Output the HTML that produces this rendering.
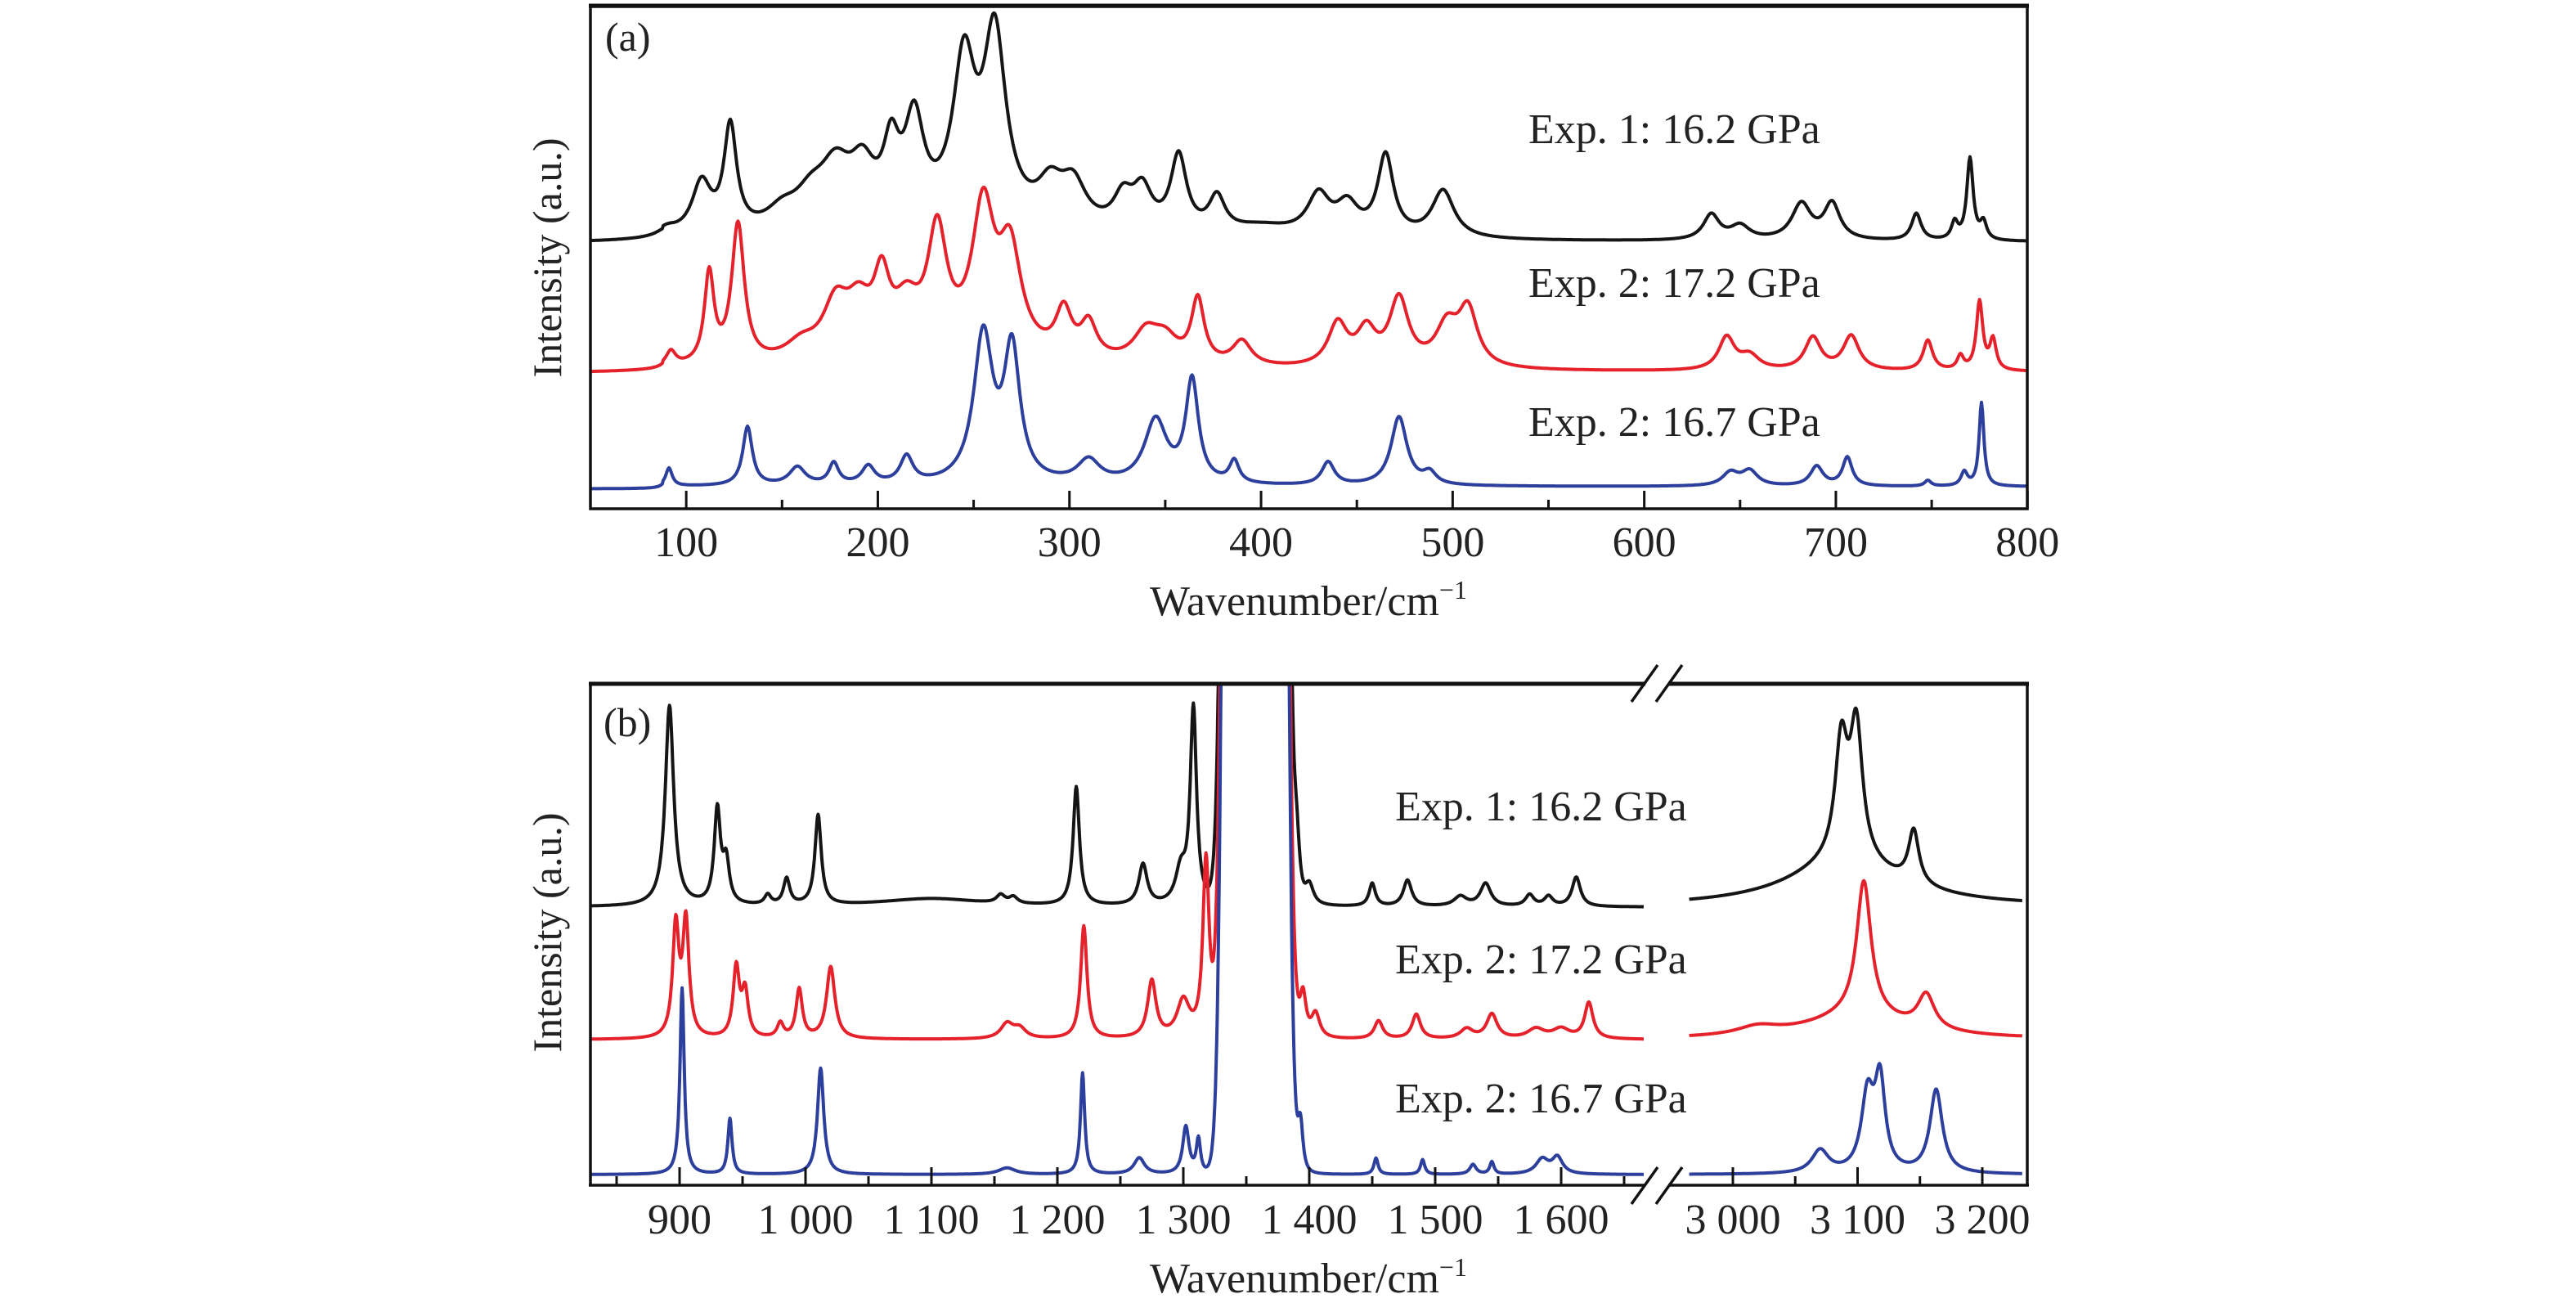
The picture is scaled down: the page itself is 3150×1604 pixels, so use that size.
<!DOCTYPE html>
<html><head><meta charset="utf-8">
<style>
html,body{margin:0;padding:0;background:#fff;}
svg{display:block;}
text{font-family:"Liberation Serif","DejaVu Serif",serif;fill:#222;}
</style></head>
<body>
<svg id="fig" width="3150" height="1604" viewBox="0 0 3150 1604" xmlns="http://www.w3.org/2000/svg">
<defs>
<clipPath id="clipA"><rect x="722" y="8" width="1757" height="614"/></clipPath>
<clipPath id="clipB1"><rect x="722" y="838" width="1288" height="611"/></clipPath>
<clipPath id="clipB2"><rect x="2042" y="838" width="437" height="611"/></clipPath>
</defs>
<g id="panelA"></g>
<g id="panelB"></g>
</svg>
<script>
// ---------- Panel (a) data ----------
const aBlackC=[90,108,123,150,165,178,192,207,219,245,261,290,302,328,338,357,377,400,430,445,465,495,635,650,682,698,742,762,770,777,240];
const aBlackH=[8,62,128,22,34,66,60,80,115,185,222,44,50,38,48,92,42,12,48,36,98,58,31,17,44,44,33,21,100,21,18];
const aBlackW=[6,6,4,10,10,10,8,5,6,7,7,8,8,6,6,5,5,20,7,7,5,7,5,6,6,5,3,2,2,2,60];
const aRedC=[92,112,127,160,178,190,202,215,231,255,269,297,310,340,350,367,390,440,455,472,497,508,643,655,688,708,748,765,775,782,240];
const aRedH=[18,110,170,20,62,55,80,52,140,170,120,55,42,36,28,78,30,52,42,82,48,68,40,17,40,42,37,17,84,37,18];
const aRedW=[3,3,4,10,8,8,5,8,6,7,7,5,5,8,8,4,6,6,6,6,7,6,5,6,5,5,3,2,2,2,60];
const aBlueC=[91,132,158,177,195,215,255,270,310,345,364,386,435,472,488,645,655,690,706,748,767,776];
const aBlueH=[22,72,22,26,22,33,180,160,28,78,125,27,28,84,14,16,18,24,35,7,17,102];
const aBlueW=[2,3,5,3,4,4,6,5,7,7,4,3,4,5,4,5,5,4,3,2,2,1.5];
const aTicks=[100,200,300,400,500,600,700,800];
const aMinor=[50,150,250,350,450,550,650,750];
// ---------- Panel (b) data ----------
const bBlackC=[892,930,937,970,985,1010,1100,1155,1165,1215,1268,1298,1308,1390,1400,1450,1478,1520,1540,1575,1590,1612];
const bBlackH=[245,115,50,12,32,110,10,10,8,145,50,40,240,70,25,28,32,12,28,14,12,36];
const bBlackW=[4,3,3,3,3,3,50,4,4,3,4,5,3,3,4,3,4,6,5,4,4,4];
const bBlackRC=[3090,3087,3099,3145];
const bBlackRH=[55,140,160,65];
const bBlackRW=[55,6,6,5];
const bRedC=[897,905,945,952,980,995,1020,1160,1170,1221,1275,1300,1318,1395,1405,1455,1485,1525,1545,1580,1600,1622];
const bRedH=[135,140,85,55,18,60,88,18,12,138,70,45,220,55,30,22,30,12,30,12,12,44];
const bRedW=[3,3,3,3,3,3,4,6,6,3,4,6,3,3,4,4,4,6,5,8,8,4];
const bRedRC=[3020,3105,3155,3100];
const bRedRH=[10,165,42,28];
const bRedRW=[20,7,8,50];
const bBlueC=[902,940,1012,1160,1220,1265,1302,1312,1393,1453,1490,1530,1545,1585,1597];
const bBlueH=[228,68,130,8,124,20,58,42,62,20,18,12,15,18,20];
const bBlueW=[2,2,3,8,2,5,3,2,2.5,2,2,3,2,6,5];
const bBlueRC=[3070,3108,3118,3163];
const bBlueRH=[28,92,108,102];
const bBlueRW=[8,6,5,6];
const bBigC=1357, bBigH=100000, bBigS=8.5;
const bTicksL=[900,1000,1100,1200,1300,1400,1500,1600];
const bLabelsL=["900","1 000","1 100","1 200","1 300","1 400","1 500","1 600"];
const bTicksR=[3000,3100,3200];
const bLabelsR=["3 000","3 100","3 200"];
const seriesLabels=["Exp. 1: 16.2 GPa","Exp. 2: 17.2 GPa","Exp. 2: 16.7 GPa"];
const colors=["#151515","#e5222b","#2d3f9c"];

const NS="http://www.w3.org/2000/svg";
function el(tag,attrs,parent){const e=document.createElementNS(NS,tag);for(const k in attrs)e.setAttribute(k,attrs[k]);parent.appendChild(e);return e;}
function spec(v,C,H,W){let s=0;for(let i=0;i<C.length;i++){const d=(v-C[i])/W[i];s+=H[i]/(1+d*d);}return s;}

const xA=v=>722+(v-50)*2.343;
const yA=(base,v)=>base-v;
const xB1=v=>831+(v-900)*1.54;
const xB2=v=>2119+(v-3000)*1.525;
const yB=(base,v)=>base-v;

function path(parent,xs,fx,fy,color,clip,name){
  let d="";xs.forEach((v,i)=>{d+=(i?"L":"M")+fx(v).toFixed(1)+","+fy(v).toFixed(1);});
  const p=el("path",{d:d,fill:"none",stroke:color,"stroke-width":4,"stroke-linejoin":"round","clip-path":"url(#"+clip+")"},parent);
  
  
}
function range(a,b,s){const r=[];for(let v=a;v<=b+1e-9;v+=s)r.push(v);return r;}

// ---------- Panel A ----------
const A=document.getElementById("panelA");
const aBases=[296,455,595];
const aSets=[[aBlackC,aBlackH,aBlackW],[aRedC,aRedH,aRedW],[aBlueC,aBlueH,aBlueW]];
const xsA=range(50,800,0.5);
aSets.forEach((s,i)=>{
  path(A,xsA,xA,v=>yA(aBases[i],spec(v,s[0],s[1],s[2])+(v<88?-3:0)),colors[i],"clipA","spectrum-a-"+i);
});
const aLabY=[175,363,533];
seriesLabels.forEach((t,i)=>{const e=el("text",{x:1869,y:aLabY[i],"font-size":52},A);e.textContent=t;
  
  });
let fr=el("rect",{x:722,y:8,width:1757,height:614,fill:"none",stroke:"#111","stroke-width":3.5},A);


el("line",{x1:720,y1:7,x2:2481,y2:7,stroke:"#111","stroke-width":5},A);
aTicks.forEach(v=>{el("line",{x1:xA(v),y1:622,x2:xA(v),y2:600,stroke:"#111","stroke-width":3},A);
  const t=el("text",{x:xA(v),y:680,"font-size":52,"text-anchor":"middle"},A);t.textContent=v;
  
  });
aMinor.forEach(v=>{el("line",{x1:xA(v),y1:622,x2:xA(v),y2:611,stroke:"#111","stroke-width":3},A);});
let ta=el("text",{x:1600,y:752,"font-size":52,"text-anchor":"middle"},A);
ta.innerHTML='Wavenumber/cm<tspan dy="-20" font-size="32">−1</tspan>';


let ya=el("text",{x:0,y:0,"font-size":50,"text-anchor":"middle",transform:"translate(686,315) rotate(-90)"},A);
ya.textContent="Intensity (a.u.)";


let la=el("text",{x:740,y:62,"font-size":50},A);la.textContent="(a)";



// ---------- Panel B ----------
const B=document.getElementById("panelB");
const bBases=[1109,1271,1436];
const bSetsL=[[bBlackC,bBlackH,bBlackW],[bRedC,bRedH,bRedW],[bBlueC,bBlueH,bBlueW]];
const bSetsR=[[bBlackRC,bBlackRH,bBlackRW],[bRedRC,bRedRH,bRedRW],[bBlueRC,bBlueRH,bBlueRW]];
const xsL=range(829,1670,0.5), xsR=range(2965,3232,0.5);
function big(v){const d=v-bBigC;return bBigH*Math.exp(-d*d/(2*bBigS*bBigS));}
bSetsL.forEach((s,i)=>{
  path(B,xsL,xB1,v=>Math.max(820,yB(bBases[i],spec(v,s[0],s[1],s[2])+big(v))),colors[i],"clipB1","spectrum-b-left-"+i);
});
bSetsR.forEach((s,i)=>{
  path(B,xsR,xB2,v=>yB(bBases[i],spec(v,s[0],s[1],s[2])),colors[i],"clipB2","spectrum-b-right-"+i);
});
const bLabY=[1003,1190,1360];
seriesLabels.forEach((t,i)=>{const e=el("text",{x:1706,y:bLabY[i],"font-size":52},B);e.textContent=t;
  
  });
el("line",{x1:722,y1:836,x2:722,y2:1449,stroke:"#111","stroke-width":3.5},B);
el("line",{x1:2479,y1:836,x2:2479,y2:1449,stroke:"#111","stroke-width":3.5},B);
el("line",{x1:720,y1:836,x2:2012,y2:836,stroke:"#111","stroke-width":5},B);
el("line",{x1:2040,y1:836,x2:2481,y2:836,stroke:"#111","stroke-width":5},B);
el("line",{x1:720,y1:1449,x2:2012,y2:1449,stroke:"#111","stroke-width":3.5},B);
el("line",{x1:2040,y1:1449,x2:2481,y2:1449,stroke:"#111","stroke-width":3.5},B);
[[0,858,813],[0,1472,1427]].forEach(a=>{
  [1995,2025].forEach(x0=>{const s=el("line",{x1:x0,y1:a[1],x2:x0+32,y2:a[2],stroke:"#111","stroke-width":3.5},B);
    
    });
});
bTicksL.forEach((v,i)=>{el("line",{x1:xB1(v),y1:1449,x2:xB1(v),y2:1427,stroke:"#111","stroke-width":3},B);
  const t=el("text",{x:xB1(v),y:1508,"font-size":52,"text-anchor":"middle"},B);t.textContent=bLabelsL[i];
  
  });
[850,950,1050,1150,1250,1350,1450,1550,1650].forEach(v=>{el("line",{x1:xB1(v),y1:1449,x2:xB1(v),y2:1438,stroke:"#111","stroke-width":3},B);});
bTicksR.forEach((v,i)=>{el("line",{x1:xB2(v),y1:1449,x2:xB2(v),y2:1427,stroke:"#111","stroke-width":3},B);
  const t=el("text",{x:xB2(v),y:1508,"font-size":52,"text-anchor":"middle"},B);t.textContent=bLabelsR[i];
  
  });
[3050,3150].forEach(v=>{el("line",{x1:xB2(v),y1:1449,x2:xB2(v),y2:1438,stroke:"#111","stroke-width":3},B);});
let tb=el("text",{x:1600,y:1580,"font-size":52,"text-anchor":"middle"},B);
tb.innerHTML='Wavenumber/cm<tspan dy="-20" font-size="32">−1</tspan>';


let yb=el("text",{x:0,y:0,"font-size":50,"text-anchor":"middle",transform:"translate(686,1140) rotate(-90)"},B);
yb.textContent="Intensity (a.u.)";


let lb=el("text",{x:738,y:900,"font-size":50},B);lb.textContent="(b)";


</script>
</body></html>
